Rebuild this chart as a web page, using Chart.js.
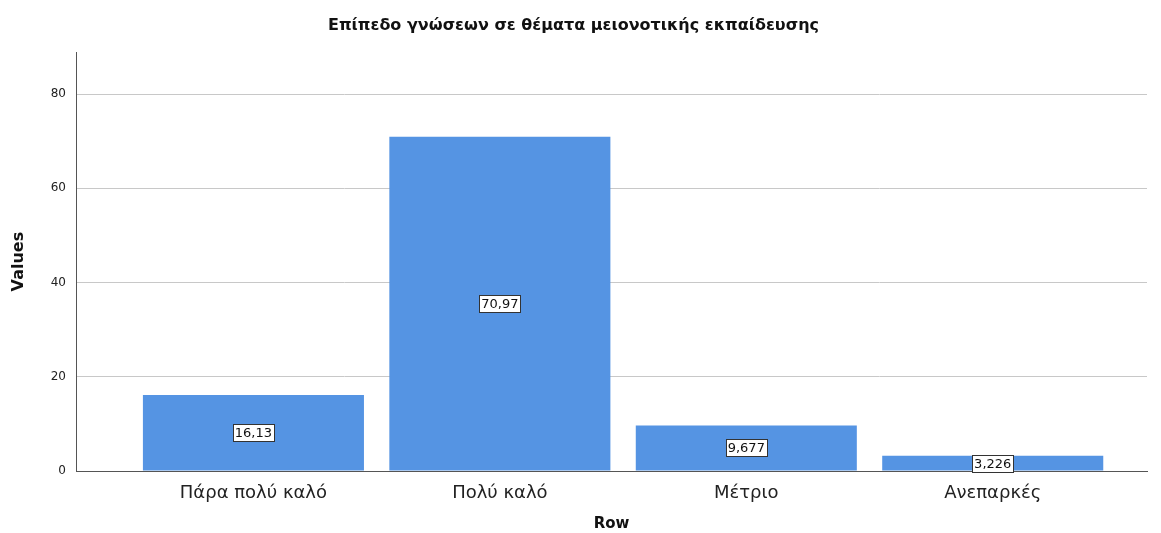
<!DOCTYPE html>
<html>
<head>
<meta charset="utf-8">
<script src="https://cdn.jsdelivr.net/npm/chart.js@4.4.1/dist/chart.umd.min.js"></script>
<style>
  html, body { margin: 0; padding: 0; background: #fff; }
  #wrap { width: 1161px; height: 533px; position: relative; }
</style>
</head>
<body>
<div id="wrap"><canvas id="chart"></canvas></div>
<script>
'use strict';
var CATEGORIES = ['Πάρα πολύ καλό', 'Πολύ καλό', 'Μέτριο', 'Ανεπαρκές'];
var VALUES = [16.13, 70.97, 9.677, 3.226];
var VALUE_LABELS = ['16,13', '70,97', '9,677', '3,226'];
var Y_TICKS = [0, 20, 40, 60, 80];

var FONT = '"DejaVu Sans", Arial, sans-serif';
var BAR_COLOR = '#5594e3';

// white boxed value label in the middle of each bar
var barLabels = {
    id: 'barLabels',
    afterDatasetsDraw: function (chart) {
        var ctx = chart.ctx;
        var meta = chart.getDatasetMeta(0);
        ctx.save();
        ctx.font = '13px ' + FONT;
        ctx.textAlign = 'center';
        ctx.textBaseline = 'middle';
        meta.data.forEach(function (bar, i) {
            var text = VALUE_LABELS[i];
            var cy = (bar.y + bar.base) / 2;
            var w = Math.round(ctx.measureText(text).width + 4);
            var h = 17;
            var left = Math.round(bar.x - w / 2) + 0.5;
            var top = Math.round(cy - h / 2) + 0.5;
            ctx.fillStyle = '#fff';
            ctx.fillRect(left, top, w, h);
            ctx.strokeStyle = '#333';
            ctx.lineWidth = 1;
            ctx.strokeRect(left, top, w, h);
            ctx.fillStyle = '#111';
            ctx.fillText(text, bar.x, cy + 1);
        });
        ctx.restore();
    }
};

var ctx = document.getElementById('chart').getContext('2d');
new Chart(ctx, {
    type: 'bar',
    data: {
        datasets: [{
            data: VALUES.map(function (v, i) { return { x: i, y: v }; }),
            backgroundColor: BAR_COLOR,
            borderWidth: 0,
            barPercentage: 0.897,
            categoryPercentage: 1
        }]
    },
    options: {
        responsive: true,
        maintainAspectRatio: false,
        animation: false,
        layout: { padding: { top: 0, right: 14, bottom: 0, left: 0 } },
        plugins: {
            legend: { display: false },
            tooltip: { enabled: false },
            title: {
                display: true,
                text: 'Επίπεδο γνώσεων σε θέματα μειονοτικής εκπαίδευσης',
                color: '#111',
                font: { family: FONT, size: 16, weight: 'bold' },
                padding: { top: 16, bottom: 17 }
            }
        },
        scales: {
            x: {
                type: 'linear',
                offset: false,
                min: -0.72,
                max: 3.626,
                grid: { display: false, drawTicks: false },
                border: { display: true, color: '#555', width: 1 },
                afterBuildTicks: function (scale) {
                    scale.ticks = CATEGORIES.map(function (c, i) { return { value: i }; });
                },
                afterFit: function (scale) { scale.height = 62; },
                ticks: {
                    autoSkip: false,
                    maxRotation: 0,
                    padding: 12,
                    color: '#222',
                    font: { family: FONT, size: 18 },
                    callback: function (v) { return CATEGORIES[v]; }
                },
                title: {
                    display: true,
                    text: 'Row',
                    color: '#111',
                    font: { family: FONT, size: 15, weight: 'bold' },
                    padding: { top: 8, bottom: 0 }
                }
            },
            y: {
                min: 0,
                max: 88.9,
                afterBuildTicks: function (scale) {
                    scale.ticks = Y_TICKS.map(function (v) { return { value: v }; });
                },
                afterFit: function (scale) { scale.width = 76; },
                grid: { color: '#c8c8c8', drawTicks: false, lineWidth: 1 },
                border: { display: true, color: '#555', width: 1 },
                ticks: {
                    padding: 10,
                    color: '#222',
                    font: { family: FONT, size: 12 }
                },
                title: {
                    display: true,
                    text: 'Values',
                    color: '#111',
                    font: { family: FONT, size: 16, weight: 'bold' },
                    padding: { top: 9, bottom: 0 }
                }
            }
        }
    },
    plugins: [barLabels]
});
</script>
</body>
</html>
